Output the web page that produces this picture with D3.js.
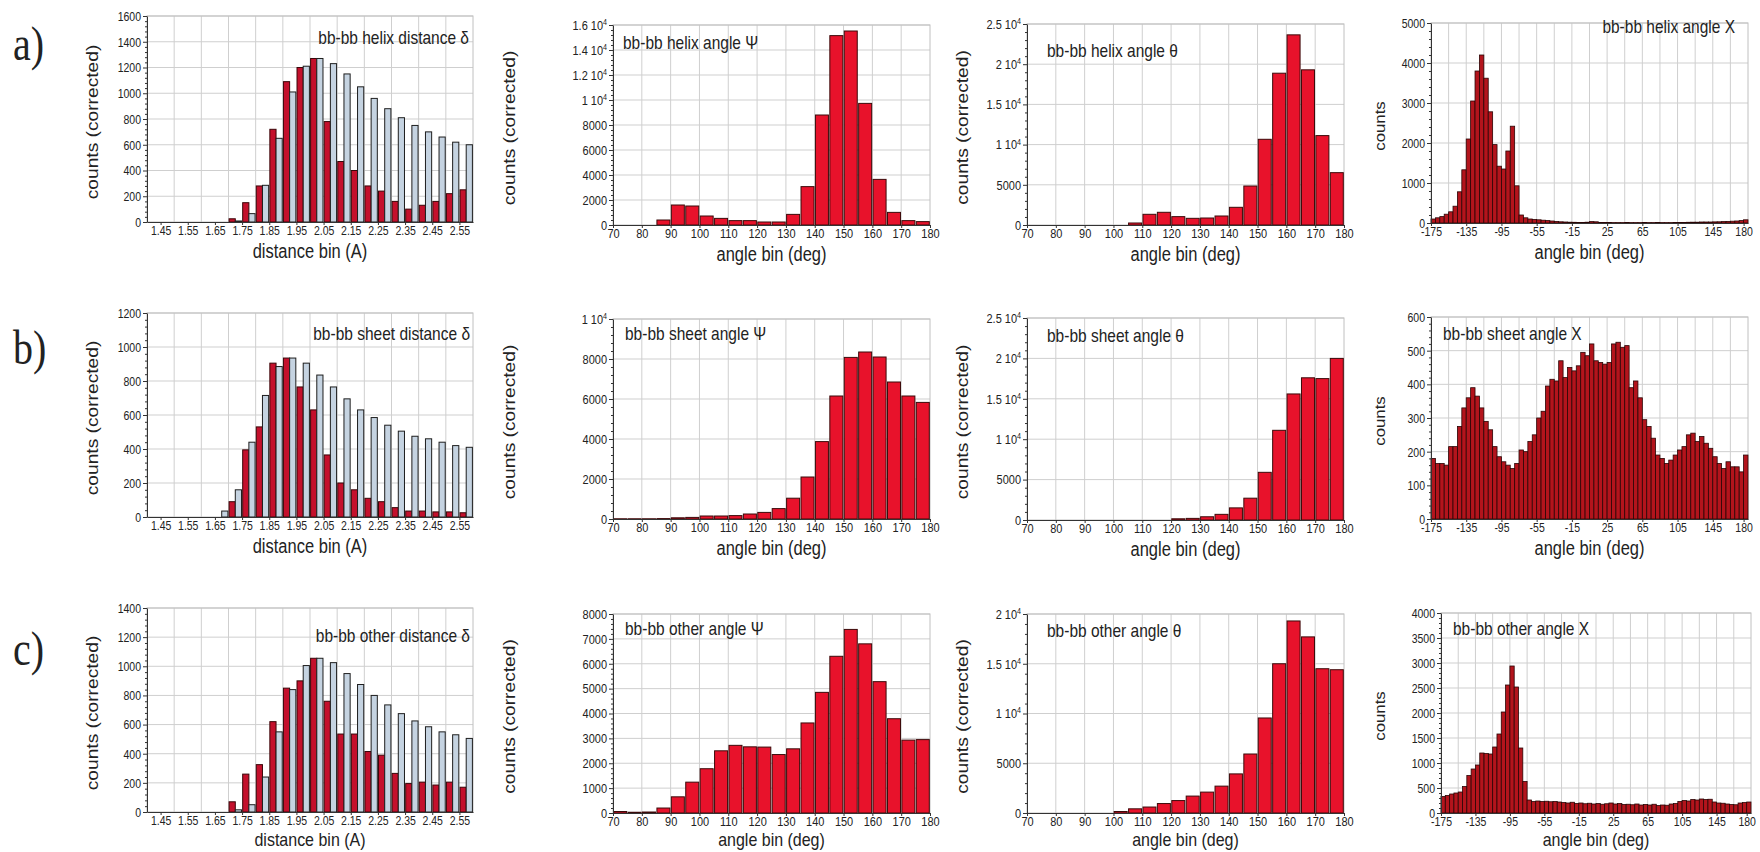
<!DOCTYPE html>
<html>
<head>
<meta charset="utf-8">
<script src="https://cdn.jsdelivr.net/npm/d3@7"></script>
<style>
    body { margin: 0; background: #fff; }
    svg { display: block; }
</style>
</head>
<body>
<div id="chart"></div>
<script>
const WIDTH = 1760;
const HEIGHT = 852;
const FONT = "'Liberation Sans', Arial, sans-serif";
const SERIF = "'Liberation Serif', 'Times New Roman', serif";
const STRETCH = 1.2; // the scanned figure is squeezed sideways, so text is drawn a bit taller
const GRID_COLOR = '#cfcfcf';
const AXIS_COLOR = '#333';
const TEXT_COLOR = '#222';

// bins (left edge of each bin)
const distanceBins = [1.40, 1.45, 1.50, 1.55, 1.60, 1.65, 1.70, 1.75, 1.80, 1.85, 1.90, 1.95,
    2.00, 2.05, 2.10, 2.15, 2.20, 2.25, 2.30, 2.35, 2.40, 2.45, 2.50, 2.55];
const angleBins = [70, 75, 80, 85, 90, 95, 100, 105, 110, 115, 120, 125, 130, 135, 140, 145,
    150, 155, 160, 165, 170, 175];
const chiBins = d3.range(-175, 185, 5);

// x tick labels
const distanceTicks = [1.45, 1.55, 1.65, 1.75, 1.85, 1.95, 2.05, 2.15, 2.25, 2.35, 2.45, 2.55];
const angleTicks = [70, 80, 90, 100, 110, 120, 130, 140, 150, 160, 170, 180];
const chiTicks = [-175, -135, -95, -55, -15, 25, 65, 105, 145, 180];

// y tick labels
const helixDistanceY = [0, 200, 400, 600, 800, 1000, 1200, 1400, 1600];
const sheetDistanceY = [0, 200, 400, 600, 800, 1000, 1200];
const otherDistanceY = [0, 200, 400, 600, 800, 1000, 1200, 1400];
const helixPsiY = [0, 2000, 4000, 6000, 8000, 10000, 12000, 14000, 16000];
const sheetPsiY = [0, 2000, 4000, 6000, 8000, 10000];
const otherPsiY = [0, 1000, 2000, 3000, 4000, 5000, 6000, 7000, 8000];
const helixThetaY = [0, 5000, 10000, 15000, 20000, 25000];
const sheetThetaY = [0, 5000, 10000, 15000, 20000, 25000];
const otherThetaY = [0, 5000, 10000, 15000, 20000];
const helixChiY = [0, 1000, 2000, 3000, 4000, 5000];
const sheetChiY = [0, 100, 200, 300, 400, 500, 600];
const otherChiY = [0, 500, 1000, 1500, 2000, 2500, 3000, 3500, 4000];

// distance delta: red = observed, blue = reference
const helixDistanceRed = [0, 0, 0, 0, 0, 0, 25, 150, 280, 720, 1090, 1200, 1270, 780, 470, 400, 280, 240, 160, 100, 130, 160, 220, 250];
const helixDistanceBlue = [0, 0, 0, 0, 0, 0, 8, 65, 285, 650, 1010, 1210, 1270, 1230, 1150, 1050, 960, 880, 810, 750, 700, 660, 620, 600];
const sheetDistanceRed = [0, 0, 0, 0, 0, 0, 90, 395, 530, 905, 935, 765, 630, 365, 200, 160, 110, 90, 55, 35, 35, 30, 30, 25];
const sheetDistanceBlue = [0, 0, 0, 0, 0, 35, 160, 440, 715, 885, 935, 905, 835, 765, 695, 630, 585, 540, 505, 475, 460, 440, 420, 410];
const otherDistanceRed = [0, 0, 0, 0, 0, 0, 70, 260, 325, 620, 850, 900, 1055, 760, 535, 535, 415, 390, 265, 195, 205, 185, 205, 170];
const otherDistanceBlue = [0, 0, 0, 0, 0, 0, 15, 50, 240, 550, 840, 1005, 1055, 1025, 950, 875, 800, 735, 675, 625, 585, 550, 530, 505];

// angle psi
const helixPsi = [0, 0, 0, 400, 1600, 1520, 720, 530, 350, 350, 240, 240, 850, 3070, 8800, 15150, 15520, 9730, 3650, 1010, 350, 270];
const sheetPsi = [10, 10, 10, 20, 60, 80, 150, 150, 170, 250, 330, 520, 1040, 2100, 3870, 6150, 8080, 8350, 8100, 6850, 6150, 5830];
const otherPsi = [60, 30, 40, 200, 650, 1240, 1780, 2500, 2720, 2660, 2650, 2350, 2580, 3620, 4850, 6300, 7380, 6800, 5280, 3790, 2930, 2950];

// angle theta
const helixTheta = [0, 0, 0, 0, 0, 0, 0, 250, 1330, 1580, 1040, 830, 870, 1120, 2200, 4850, 10660, 18880, 23650, 19300, 11120, 6510];
const sheetTheta = [0, 0, 0, 0, 0, 0, 0, 0, 0, 0, 150, 200, 400, 700, 1500, 2700, 5900, 11100, 15600, 17600, 17500, 20000];
const otherTheta = [0, 0, 0, 0, 0, 0, 150, 420, 600, 950, 1250, 1700, 2100, 2700, 3930, 5930, 9550, 15000, 19300, 17700, 14500, 14400];

// angle chi
const helixChi = [100, 130, 160, 220, 280, 420, 780, 1330, 2100, 3050, 3800, 4200, 3620, 2780, 1960, 1420, 1350, 1800, 2420, 930,
    200, 130, 100, 90, 80, 70, 60, 50, 40, 30, 25, 20, 18, 15, 15, 20, 35, 30, 15, 12,
    12, 10, 10, 10, 12, 10, 10, 10, 12, 10, 10, 12, 10, 10, 10, 12, 15, 15, 18, 20,
    20, 25, 25, 25, 28, 30, 35, 40, 45, 50, 60, 80];
const sheetChi = [180, 165, 165, 160, 215, 215, 275, 330, 360, 390, 365, 330, 290, 265, 215, 185, 170, 160, 150, 165,
    205, 200, 230, 250, 300, 320, 395, 415, 410, 470, 420, 450, 440, 455, 495, 485, 520, 470, 465, 460,
    465, 520, 525, 510, 515, 390, 410, 360, 295, 275, 240, 190, 180, 165, 175, 190, 205, 215, 250, 255,
    230, 245, 225, 210, 185, 165, 150, 170, 155, 155, 140, 190];
const otherChi = [330, 350, 380, 400, 420, 530, 750, 880, 960, 1200, 1190, 1180, 1320, 1580, 2020, 2560, 2940, 2520, 1300, 630,
    260, 230, 240, 230, 235, 225, 230, 220, 210, 200, 215, 190, 200, 185, 195, 180, 190, 175, 185, 200,
    180, 190, 170, 175, 165, 180, 160, 170, 160, 175, 150, 160, 155, 180, 190, 230, 250, 240, 270, 260,
    280, 270, 275, 220, 200, 195, 180, 170, 165, 200, 210, 220];

const COLUMNS = [
    {
        left: 147, right: 473, yLabelX: 92, yLabel: 'counts (corrected)', yLabelSize: 16,
        xLabel: 'distance bin (A)', xDomain: [1.40, 2.60], binWidth: 0.05, bins: distanceBins,
        xTicks: distanceTicks, xFormat: d3.format('.2f'), grid: d3.range(1.5, 2.55, 0.1),
        tickSize: 10.5, fill: '#c4102c', stroke: '#3a0508', pair: true,
    },
    {
        left: 613, right: 930, yLabelX: 509, yLabel: 'counts (corrected)', yLabelSize: 16,
        xLabel: 'angle bin (deg)', xDomain: [70, 180], binWidth: 5, bins: angleBins,
        xTicks: angleTicks, xFormat: d => String(d), grid: d3.range(80, 175, 10),
        tickSize: 11, fill: '#e8122b', stroke: '#3b0a0a',
    },
    {
        left: 1027, right: 1344, yLabelX: 962, yLabel: 'counts (corrected)', yLabelSize: 16,
        xLabel: 'angle bin (deg)', xDomain: [70, 180], binWidth: 5, bins: angleBins,
        xTicks: angleTicks, xFormat: d => String(d), grid: d3.range(80, 175, 10),
        tickSize: 11, fill: '#e8122b', stroke: '#3b0a0a',
    },
    {
        left: 1431, right: 1748, yLabelX: 1380, yLabel: 'counts', yLabelSize: 14,
        xLabel: 'angle bin (deg)', xDomain: [-175, 185], binWidth: 5, bins: chiBins,
        xTicks: chiTicks, xFormat: d => String(d), grid: d3.range(-155, 180, 20),
        tickSize: 10.5, fill: '#b3141c', stroke: '#2a0505', solid: true,
    },
];

const PANELS = [
    { col: 0, top: 16, bottom: 222, red: helixDistanceRed, blue: helixDistanceBlue, yTicks: helixDistanceY,
      note: { text: 'bb-bb helix distance δ', x: 469, y: 37, anchor: 'end' } },
    { col: 1, top: 25, bottom: 225, red: helixPsi, yTicks: helixPsiY,
      note: { text: 'bb-bb helix angle Ψ', x: 623, y: 42, anchor: 'start' } },
    { col: 2, top: 24, bottom: 225, red: helixTheta, yTicks: helixThetaY,
      note: { text: 'bb-bb helix angle θ', x: 1047, y: 50, anchor: 'start' } },
    { col: 3, top: 23, bottom: 223, red: helixChi, yTicks: helixChiY,
      note: { text: 'bb-bb helix angle Χ', x: 1735, y: 26, anchor: 'end' } },

    { col: 0, top: 313, bottom: 517, red: sheetDistanceRed, blue: sheetDistanceBlue, yTicks: sheetDistanceY,
      note: { text: 'bb-bb sheet distance δ', x: 470, y: 333, anchor: 'end' } },
    { col: 1, top: 319, bottom: 519, red: sheetPsi, yTicks: sheetPsiY,
      note: { text: 'bb-bb sheet angle Ψ', x: 625, y: 333, anchor: 'start' } },
    { col: 2, top: 318, bottom: 520, red: sheetTheta, yTicks: sheetThetaY,
      note: { text: 'bb-bb sheet angle θ', x: 1047, y: 335, anchor: 'start' } },
    { col: 3, top: 317, bottom: 519, red: sheetChi, yTicks: sheetChiY,
      note: { text: 'bb-bb sheet angle Χ', x: 1443, y: 333, anchor: 'start' } },

    { col: 0, top: 608, bottom: 812, titleGap: 27, titleSize: 16, red: otherDistanceRed, blue: otherDistanceBlue, yTicks: otherDistanceY,
      note: { text: 'bb-bb other distance δ', x: 470, y: 635, anchor: 'end' } },
    { col: 1, top: 614, bottom: 813, titleGap: 26, titleSize: 16, red: otherPsi, yTicks: otherPsiY,
      note: { text: 'bb-bb other angle Ψ', x: 625, y: 628, anchor: 'start' } },
    { col: 2, top: 614, bottom: 813, titleGap: 26, titleSize: 16, red: otherTheta, yTicks: otherThetaY,
      note: { text: 'bb-bb other angle θ', x: 1047, y: 630, anchor: 'start' } },
    { col: 3, top: 613, bottom: 813, titleGap: 26, titleSize: 16, left: 1441, right: 1751, red: otherChi, yTicks: otherChiY,
      note: { text: 'bb-bb other angle Χ', x: 1453, y: 628, anchor: 'start' } },
];

const ROW_LABELS = [
    { text: 'a)', y: 43 },
    { text: 'b)', y: 347 },
    { text: 'c)', y: 648 },
];

const svg = d3.select('#chart')
    .append('svg')
    .attr('width', WIDTH)
    .attr('height', HEIGHT)
    .style('font-family', FONT);

// Text centred on (cx, cy), stretched like the scan
function addText(parent, cx, cy, str, size, anchor, rotate, family) {
    const t = parent.append('text')
        .attr('text-anchor', anchor || 'middle')
        .attr('fill', TEXT_COLOR)
        .style('font-size', size + 'px')
        .text(str);
    if (family) t.style('font-family', family);
    if (rotate) {
        t.attr('transform', `translate(${cx + 0.35 * size},${cy}) rotate(-90) scale(${STRETCH},1)`);
    } else {
        t.attr('transform', `translate(${cx},${cy + 0.35 * size * STRETCH}) scale(1,${STRETCH})`);
    }
    return t;
}

function drawPanel(p) {
    const col = COLUMNS[p.col];
    const left = p.left || col.left;
    const right = p.right || col.right;
    const x = d3.scaleLinear().domain(col.xDomain).range([left, right]);
    const y = d3.scaleLinear().domain([0, d3.max(p.yTicks)]).range([p.bottom, p.top]);
    const g = svg.append('g');

    // Grid
    g.selectAll('line.vgrid')
        .data(col.grid)
        .enter()
        .append('line')
        .attr('class', 'vgrid')
        .attr('x1', d => x(d)).attr('x2', d => x(d))
        .attr('y1', p.top).attr('y2', p.bottom)
        .attr('stroke', GRID_COLOR);

    g.selectAll('line.hgrid')
        .data(p.yTicks.slice(1))
        .enter()
        .append('line')
        .attr('class', 'hgrid')
        .attr('x1', left).attr('x2', right)
        .attr('y1', d => y(d)).attr('y2', d => y(d))
        .attr('stroke', GRID_COLOR);

    g.append('rect')
        .attr('x', left).attr('y', p.top)
        .attr('width', right - left).attr('height', p.bottom - p.top)
        .attr('fill', 'none')
        .attr('stroke', '#c0c0c0');

    // Bars
    const bw = x(col.bins[0] + col.binWidth) - x(col.bins[0]);
    if (col.pair) {
        g.selectAll('rect.red')
            .data(p.red)
            .enter()
            .append('rect')
            .attr('class', 'red')
            .attr('x', (d, i) => x(col.bins[i]) + 0.6)
            .attr('width', bw / 2 - 0.6)
            .attr('y', d => y(d))
            .attr('height', d => p.bottom - y(d))
            .attr('fill', col.fill)
            .attr('stroke', col.stroke);

        g.selectAll('rect.blue')
            .data(p.blue)
            .enter()
            .append('rect')
            .attr('class', 'blue')
            .attr('x', (d, i) => x(col.bins[i]) + bw / 2)
            .attr('width', bw / 2 - 0.6)
            .attr('y', d => y(d))
            .attr('height', d => p.bottom - y(d))
            .attr('fill', '#c5d3e1')
            .attr('stroke', '#1e1e1e');
    } else {
        const gap = col.solid ? 0 : 1.4;
        g.selectAll('rect.red')
            .data(p.red)
            .enter()
            .append('rect')
            .attr('class', 'red')
            .attr('x', (d, i) => x(col.bins[i]) + gap / 2)
            .attr('width', bw - gap)
            .attr('y', d => y(d))
            .attr('height', d => p.bottom - y(d))
            .attr('fill', col.fill)
            .attr('stroke', col.stroke)
            .attr('stroke-width', col.solid ? 0.8 : 1);
    }

    // Y axis with minor ticks
    const step = p.yTicks[1] - p.yTicks[0];
    const minor = d3.range(0, d3.max(p.yTicks), step / 5).filter(v => v % step !== 0);
    g.append('g')
        .attr('transform', `translate(${left},0)`)
        .attr('color', AXIS_COLOR)
        .call(d3.axisLeft(y).tickValues(minor).tickSize(2).tickSizeOuter(0).tickFormat(''))
        .select('.domain').remove();

    const yAxis = g.append('g')
        .attr('transform', `translate(${left},0)`)
        .attr('color', AXIS_COLOR)
        .attr('font-family', FONT)
        .call(d3.axisLeft(y).tickValues(p.yTicks).tickSize(4).tickSizeOuter(0).tickFormat(d => String(d)));

    yAxis.selectAll('.tick text')
        .attr('x', -6)
        .attr('dy', null)
        .attr('dominant-baseline', 'central')
        .attr('transform', `scale(1,${STRETCH})`)
        .attr('fill', TEXT_COLOR)
        .style('font-size', col.tickSize + 'px')
        .each(function (d) {
            if (d >= 10000) {
                const t = d3.select(this).text(null);
                t.append('tspan').text(`${d / 10000} 10`);
                t.append('tspan').attr('dy', '-0.45em').style('font-size', '0.65em').text('4');
            }
        });

    // X axis
    const xAxis = g.append('g')
        .attr('transform', `translate(0,${p.bottom})`)
        .attr('color', AXIS_COLOR)
        .attr('font-family', FONT)
        .call(d3.axisBottom(x).tickValues(col.xTicks).tickSize(3).tickSizeOuter(0).tickFormat(col.xFormat));

    xAxis.selectAll('.tick text')
        .attr('y', 9 / STRETCH)
        .attr('dy', null)
        .attr('dominant-baseline', 'central')
        .attr('transform', `scale(1,${STRETCH})`)
        .attr('fill', TEXT_COLOR)
        .style('font-size', col.tickSize + 'px');

    // Titles
    addText(g, (left + right) / 2, p.bottom + (p.titleGap || 29), col.xLabel, p.titleSize || 16.5, 'middle');
    addText(g, col.yLabelX, (p.top + p.bottom) / 2 + 3, col.yLabel, col.yLabelSize, 'middle', true);
    addText(g, p.note.x, p.note.y, p.note.text, 15.5, p.note.anchor);
}

PANELS.forEach(drawPanel);

ROW_LABELS.forEach(r => {
    addText(svg, 13, r.y, r.text, 40, 'start', false, SERIF);
});
</script>
</body>
</html>
